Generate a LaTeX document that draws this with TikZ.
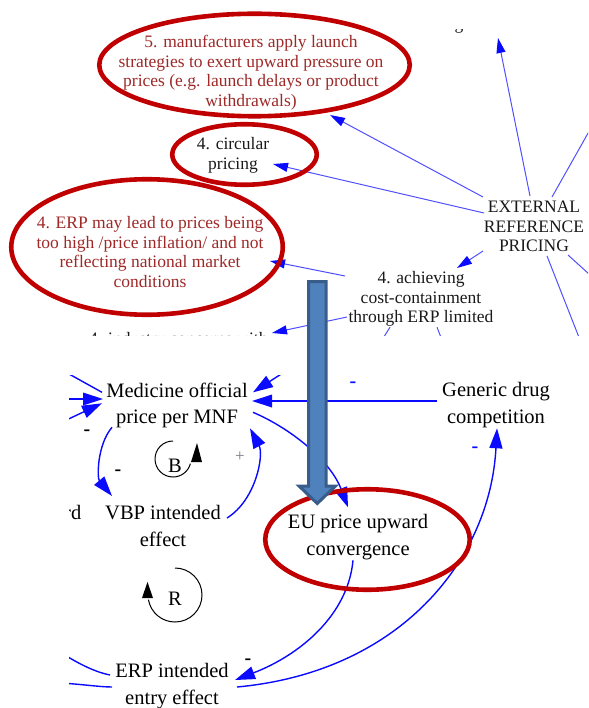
\documentclass[tikz,border=0pt]{standalone}
\usepackage{fontspec}
\setmainfont{Liberation Serif}
\usetikzlibrary{arrows.meta,shapes.geometric}
\definecolor{ringred}{RGB}{192,0,0}
\definecolor{notered}{RGB}{158,40,40}
\definecolor{linkblue}{RGB}{10,10,255}
\definecolor{thinblue}{RGB}{80,80,255}
\definecolor{shaftfill}{RGB}{79,129,189}
\definecolor{shaftedge}{RGB}{56,93,138}
\definecolor{inkgray}{RGB}{25,25,25}
\definecolor{plusgray}{RGB}{120,120,120}
\pgfdeclarelayer{links}
\pgfdeclarelayer{overlay}
\pgfsetlayers{links,main,overlay}
\begin{document}
\begin{tikzpicture}[x=1pt,y=-1pt,
  toptext/.style={align=center, inner sep=1pt, font=\fontsize{17.5}{19.5}\selectfont, text=inkgray},
  redtext/.style={toptext, text=notered},
  bottext/.style={align=center, inner sep=1pt, font=\fontsize{20.5}{26.5}\selectfont, text=black},
  ring/.style={ellipse, draw=ringred, line width=4.6pt, inner sep=0pt},
  thinlink/.style={draw=thinblue, line width=1pt},
  thinarrow/.style={thinlink, -{Triangle[length=15pt,width=9pt,color=linkblue]}},
  link/.style={draw=linkblue, line width=1.4pt},
  flatlink/.style={draw=linkblue, line width=1.8pt},
  linkarrow/.style={link, -{Triangle[length=20pt,width=13pt]}},
  flatarrow/.style={flatlink, -{Triangle[length=20pt,width=13pt,line width=0pt]}},
  polarity/.style={font=\fontsize{20}{20}\selectfont\bfseries, inner sep=0pt},
  loopline/.style={draw=black, line width=1pt},
]
\useasboundingbox (0,0) rectangle (588,708);

% ---------- upper panel: rings and labels ----------
\begin{scope}
  \clip (0,0) rectangle (588,335);
  \node[ring, minimum width=310.5pt, minimum height=102.5pt] (ring5) at (254.5,65) {};
  \node[ring, minimum width=144.5pt, minimum height=60.5pt] (ringcirc) at (244.5,154.5) {};
  \node[ring, minimum width=271.5pt, minimum height=135.5pt] (ringerp) at (147,247) {};
  \node[redtext] (launch) at (251,72.6) {5. manufacturers apply launch\\strategies to exert upward pressure on\\prices (e.g. launch delays or product\\withdrawals)};
  \node[toptext] (circ) at (233,155.5) {4. circular\\pricing};
  \node[redtext] (inflation) at (150,252) {4. ERP may lead to prices being\\too high /price inflation/ and not\\reflecting national market\\conditions};
  \node[toptext] (extref) at (534,226.5) {EXTERNAL\\REFERENCE\\PRICING};
  \node[toptext] (contain) at (421,299.2) {4. achieving\\cost-containment\\through ERP limited};
  \node[toptext, anchor=base west] (industry) at (88,344.5) {4. industry concerns with};
\end{scope}
\begin{scope}
  \clip (440,30) rectangle (480,40);
  \node[toptext, anchor=base, inner sep=0pt] (tail) at (459,30) {g};
\end{scope}

% ---------- lower panel: ring, variables, polarities, loops ----------
\begin{scope}
  \clip (69,375) rectangle (588,708);
  \node[ring, minimum width=204.5pt, minimum height=100.5pt] (ringeu) at (367.5,539.5) {};
  \node[bottext] (price) at (177,405.3) {Medicine official\\price per MNF};
  \node[bottext] (generic) at (496,405.3) {Generic drug\\competition};
  \node[bottext] (vbp) at (163,526) {VBP intended\\effect};
  \node[bottext] (conv) at (358,537.3) {EU price upward\\convergence};
  \node[bottext] (entry) at (172,686) {ERP intended\\entry effect};
  \node[bottext, anchor=base east] (cutword) at (82.5,519.8) {rd};

  \node[polarity, text=linkblue] (mgen) at (353,385) {-};
  \node[polarity, text=linkblue] (mgen2) at (475,450) {-};
  \node[polarity] (mvbp1) at (87,433) {-};
  \node[polarity] (mvbp2) at (118,473) {-};
  \node[polarity] (mentry) at (248,662) {-};
  \node[font=\fontsize{17}{17}\selectfont, text=plusgray, inner sep=0pt] (pplus) at (240,457) {+};

  % balancing loop marker
  \node[bottext] (bal) at (175,466) {B};
  \draw[loopline] (173,441) arc[start angle=-90, end angle=-345, radius=18];
  \fill (191,462) -- (197,443) -- (202,462) -- cycle;
  % reinforcing loop marker
  \node[bottext] (rein) at (175,599) {R};
  \draw[loopline] (175,568) arc[start angle=-90, end angle=170, radius=27];
  \fill (142,598) -- (147.5,582) -- (153,598) -- cycle;
\end{scope}

% ---------- connectors ----------
\begin{pgfonlayer}{links}
  \begin{scope}
    \clip (0,0) rectangle (588,335);
    \coordinate (upend) at (498,38);
    \coordinate (offne) at (600,112);
    \coordinate (offe) at (600,284);
    \coordinate (offse) at (582,345);
    \coordinate (tick1) at (382,340);
    \coordinate (tick2) at (442,340);
    \draw[thinarrow] ([shift={(-51,-29.5)}]extref.center) -- ([shift={(75.5,50)}]ring5.center);
    \draw[thinarrow] ([shift={(-50,-13.5)}]extref.center) -- ([shift={(28.5,9.5)}]ringcirc.center);
    \draw[thinarrow] ([shift={(-4,-30.5)}]extref.center) -- (upend);
    \draw[thinlink] ([shift={(18,-29.5)}]extref.center) -- (offne);
    \draw[thinlink] ([shift={(34,28.5)}]extref.center) -- (offe);
    \draw[thinlink] ([shift={(13,29.5)}]extref.center) -- (offse);
    \draw[thinarrow] ([shift={(-51,24.5)}]extref.center) -- ([shift={(36,-31.2)}]contain.center);
    \draw[thinarrow] ([shift={(-76,-23.2)}]contain.center) -- ([shift={(123,14)}]ringerp.center);
    \draw[thinarrow] ([shift={(-74,17.8)}]contain.center) -- ([shift={(184,-11.5)}]industry.base west);
    \draw[thinlink] ([shift={(-31,28)}]contain.center) -- (tick1);
    \draw[thinlink] ([shift={(16,28)}]contain.center) -- (tick2);
  \end{scope}
  \begin{scope}
    \clip (69,375) rectangle (588,708);
    \coordinate (offn) at (292,367);
    \coordinate (offnw) at (60,369);
    \coordinate (offw1) at (60,399);
    \coordinate (offw2) at (60,423);
    \coordinate (offsw1) at (60,652);
    \coordinate (offsw2) at (60,683);
    \draw[flatarrow] ([shift={(-59,-4.3)}]generic.center) -- ([shift={(75,-4.3)}]price.center);
    \draw[linkarrow] (offn) -- ([shift={(76,-13)}]price.center);
    \draw[link] ([shift={(-75,-13)}]price.center) -- (offnw);
    \draw[flatarrow] (offw1) -- ([shift={(-74,-6.3)}]price.center);
    \draw[linkarrow] (offw2) -- ([shift={(-75,-2)}]price.center);
    \draw[linkarrow] ([shift={(-65,22)}]price.center) .. controls (97,445) and (97,478) .. ([shift={(-51,-30)}]vbp.center);
    \draw[linkarrow] ([shift={(64,-8)}]vbp.center) .. controls (256,500) and (264,455) .. ([shift={(73,23)}]price.center);
    \draw[linkarrow] ([shift={(76,7)}]price.center) .. controls (290,428) and (330,460) .. ([shift={(-10,-30)}]conv.center);
    \draw[linkarrow] ([shift={(-5,23)}]conv.center) .. controls (348,615) and (300,655) .. ([shift={(63,-6)}]entry.center);
    \draw[linkarrow] ([shift={(65,1)}]entry.center) .. controls (400,672) and (490,560) .. ([shift={(1,23)}]generic.center);
    \draw[link] (offsw1) .. controls (85,668) and (100,673) .. ([shift={(-62,-11)}]entry.center);
    \draw[link] (offsw2) .. controls (80,684) and (100,687) .. ([shift={(-60,1)}]entry.center);
  \end{scope}
\end{pgfonlayer}

% ---------- block arrow across both panels ----------
\begin{pgfonlayer}{overlay}
  \draw[draw=shaftedge, fill=shaftfill, line width=3pt, line join=miter]
    (308.5,281.5) -- (326,281.5) -- (326,486) -- (335.5,486) -- (317.25,503.5)
    -- (299,486) -- (308.5,486) -- cycle;
\end{pgfonlayer}
\end{tikzpicture}
\end{document}
